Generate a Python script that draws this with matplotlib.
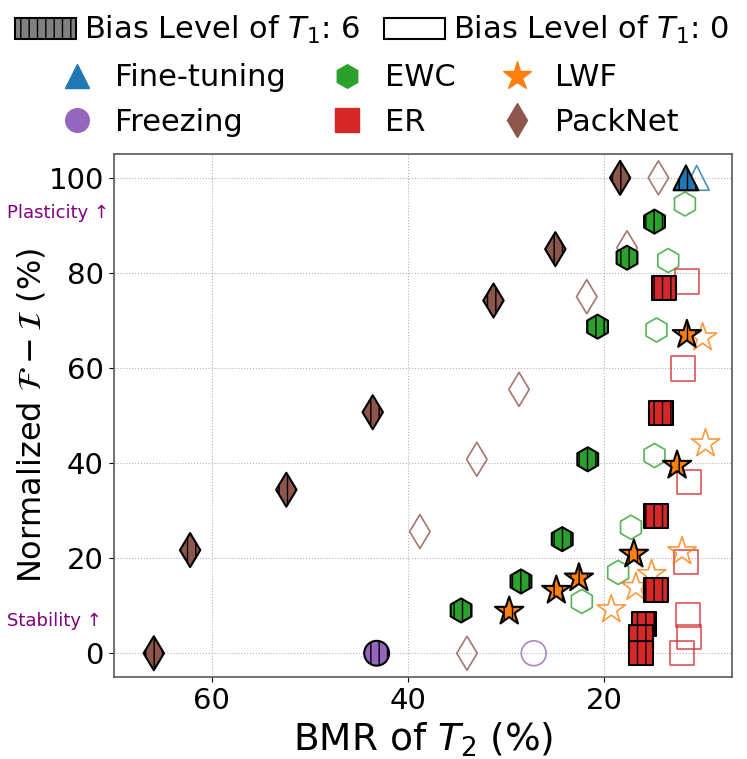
import matplotlib
matplotlib.use("Agg")
import matplotlib.pyplot as plt
from matplotlib.patches import Patch
from matplotlib.lines import Line2D

# ---------------- data ----------------
methods = ["Fine-tuning", "Freezing", "EWC", "ER", "LWF", "PackNet"]

# Bias level of T1: 6 (filled, hatched)
ft_b_x = [11.7]
ft_b_y = [100.0]
fr_b_x = [43.2]
fr_b_y = [0.0]
ewc_b_x = [14.9, 17.7, 20.7, 21.7, 24.3, 28.5, 34.6]
ewc_b_y = [90.8, 83.2, 68.7, 40.8, 24.0, 15.1, 9.0]
er_b_x = [13.9, 14.2, 14.7, 14.7, 16.0, 16.3, 16.3]
er_b_y = [76.9, 50.6, 28.8, 13.4, 6.1, 3.4, 0.0]
lwf_b_x = [11.6, 12.6, 17.0, 22.6, 24.9, 29.7]
lwf_b_y = [67.0, 39.5, 20.8, 15.8, 13.2, 8.8]
pn_b_x = [18.4, 25.0, 31.3, 43.6, 52.4, 62.2, 65.9]
pn_b_y = [100.0, 85.0, 74.2, 50.7, 34.4, 21.7, 0.0]

# Bias level of T1: 0 (open)
ft_u_x = [10.6]
ft_u_y = [100.0]
fr_u_x = [27.2]
fr_u_y = [0.0]
ewc_u_x = [11.8, 13.5, 14.7, 14.9, 17.3, 18.6, 22.3]
ewc_u_y = [94.5, 82.6, 68.0, 41.6, 26.5, 17.0, 10.9]
er_u_x = [11.6, 12.0, 11.4, 11.7, 11.5, 11.4, 12.1]
er_u_y = [78.2, 59.9, 36.1, 19.1, 8.0, 3.4, 0.0]
lwf_u_x = [10.0, 9.7, 12.1, 15.2, 16.8, 19.3]
lwf_u_y = [66.4, 44.1, 21.4, 16.6, 13.9, 9.2]
pn_u_x = [14.5, 17.7, 21.8, 28.7, 33.0, 38.8, 34.0]
pn_u_y = [100.0, 85.3, 75.0, 55.5, 40.8, 25.6, 0.0]

x_ticks = [20, 40, 60]
y_ticks = [0, 20, 40, 60, 80, 100]

biased = {
    "Fine-tuning": (ft_b_x, ft_b_y),
    "Freezing": (fr_b_x, fr_b_y),
    "EWC": (ewc_b_x, ewc_b_y),
    "ER": (er_b_x, er_b_y),
    "LWF": (lwf_b_x, lwf_b_y),
    "PackNet": (pn_b_x, pn_b_y),
}
unbiased = {
    "Fine-tuning": (ft_u_x, ft_u_y),
    "Freezing": (fr_u_x, fr_u_y),
    "EWC": (ewc_u_x, ewc_u_y),
    "ER": (er_u_x, er_u_y),
    "LWF": (lwf_u_x, lwf_u_y),
    "PackNet": (pn_u_x, pn_u_y),
}

# ---------------- style ----------------
colors = {"Fine-tuning": "tab:blue", "Freezing": "tab:purple", "EWC": "tab:green",
          "ER": "tab:red", "LWF": "tab:orange", "PackNet": "tab:brown"}
markers = {"Fine-tuning": "^", "Freezing": "o", "EWC": "h",
           "ER": "s", "LWF": "*", "PackNet": "d"}
sizes = {"Fine-tuning": 320, "Freezing": 320, "EWC": 300,
         "ER": 300, "LWF": 460, "PackNet": 300}

fig = plt.figure(figsize=(7.47, 7.59), dpi=100)
ax = fig.add_axes([0.152, 0.108, 0.828, 0.689])

for m in methods:
    x, y = unbiased[m]
    ax.scatter(x, y, s=sizes[m], marker=markers[m], facecolors="none",
               edgecolors=colors[m], linewidths=1.2, alpha=0.8, zorder=2)
for m in methods:
    x, y = biased[m]
    ax.scatter(x, y, s=sizes[m], marker=markers[m], facecolors=colors[m],
               edgecolors="black", linewidths=1.5, hatch="||", zorder=3)

ax.set_xlim(70, 7)
ax.set_ylim(-5, 105)
ax.set_xticks(x_ticks)
ax.set_yticks(y_ticks)
ax.tick_params(labelsize=21)
ax.grid(True, linestyle=":", color="gray", alpha=0.6, linewidth=0.8)
ax.set_axisbelow(True)
for sp in ax.spines.values():
    sp.set_color("0.35")
    sp.set_linewidth(1.2)

ax.set_xlabel("BMR of $T_2$ (%)", fontsize=27)
ax.set_ylabel(r"Normalized $\mathcal{F} - \mathcal{I}$ (%)", fontsize=23, labelpad=1)

fig.text(7 / 747, 1 - 213 / 759, "Plasticity ↑", color="purple", fontsize=13,
         ha="left", va="center")
fig.text(7 / 747, 1 - 621 / 759, "Stability ↑", color="purple", fontsize=13,
         ha="left", va="center")

# ---------------- legends ----------------
h1 = [Patch(facecolor="gray", edgecolor="black", hatch="||", linewidth=1.5,
            label="Bias Level of $T_1$: 6"),
      Patch(facecolor="white", edgecolor="black", linewidth=1.5,
            label="Bias Level of $T_1$: 0")]
fig.legend(handles=h1, loc="center", bbox_to_anchor=(0.498, 1 - 30 / 759), ncol=2,
           frameon=False, fontsize=22, handletextpad=0.25, columnspacing=0.8,
           borderaxespad=0, borderpad=0)

h2 = []
for m in methods:
    ms = 21 if m == "LWF" else 17
    h2.append(Line2D([], [], linestyle="none", marker=markers[m], color=colors[m],
                     markersize=ms, label=m))
fig.legend(handles=h2, loc="center", bbox_to_anchor=(0.485, 1 - 100 / 759), ncol=3,
           frameon=False, fontsize=22, handletextpad=0.25, columnspacing=1.0,
           labelspacing=0.5, borderaxespad=0, borderpad=0)

fig.savefig("out.png", dpi=100)
